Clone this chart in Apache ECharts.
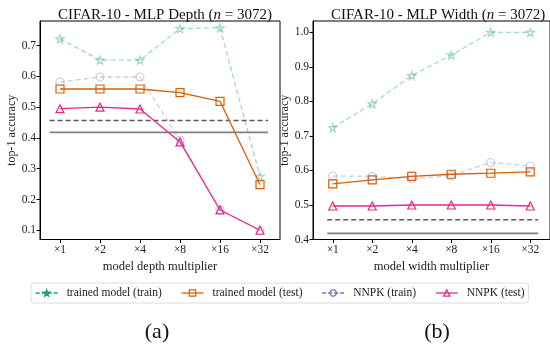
<!DOCTYPE html>
<html>
<head>
<meta charset="utf-8">
<style>html,body{margin:0;padding:0;background:#fff;}#c{width:550px;height:344px;}</style>
<script src="https://cdn.jsdelivr.net/npm/echarts@6/dist/echarts.min.js"></script>
</head>
<body>
<div id="c"></div>
<script>
// ---- data ----
const categories = ['×1', '×2', '×4', '×8', '×16', '×32'];
const seriesNames = ['trained model (train)', 'trained model (test)', 'NNPK (train)', 'NNPK (test)'];

const depthTrainedTrain = [0.722, 0.653, 0.653, 0.755, 0.758, 0.275];
const depthTrainedTest  = [0.559, 0.559, 0.559, 0.547, 0.519, 0.248];
const depthNNPKTrain    = [0.582, 0.598, 0.598, 0.393, 0.167, 0.100];
const depthNNPKTest     = [0.495, 0.500, 0.494, 0.387, 0.166, 0.100];

const widthTrainedTrain = [0.724, 0.793, 0.875, 0.934, 1.000, 1.000];
const widthTrainedTest  = [0.561, 0.573, 0.583, 0.589, 0.592, 0.596];
const widthNNPKTrain    = [0.584, 0.583, 0.576, 0.585, 0.623, 0.613];
const widthNNPKTest     = [0.497, 0.497, 0.500, 0.500, 0.500, 0.497];

// reference horizontal lines (accuracy levels) and their x extent (fraction of axes)
const refDashed = 0.457;
const refSolid  = 0.418;
const refExtentDepth = [0.04, 0.95];
const refExtentWidth = [0.06, 0.95];

const depthTicks = [0.1, 0.2, 0.3, 0.4, 0.5, 0.6, 0.7];
const widthTicks = [0.4, 0.5, 0.6, 0.7, 0.8, 0.9, 1.0];
const depthRange = [0.07, 0.78];
const widthRange = [0.4, 1.033];

// ---- styles ----
const FONT = 'Liberation Serif';
const colors = ['#1b9e77', '#d95f02', '#7570b3', '#e7298a'];
const STAR = 'path://M50,2 L61,36 L97,36 L68,57 L79,92 L50,71 L21,92 L32,57 L3,36 L39,36 Z';
const symbols = [STAR, 'rect', 'circle', 'triangle'];
const symSizes = [8, 8, 8, 8];
const dashed = [true, false, true, false];
const alphas = [0.4, 1, 0.35, 1];

function rgba(hex, a) {
  const n = parseInt(hex.slice(1), 16);
  return `rgba(${(n >> 16) & 255},${(n >> 8) & 255},${n & 255},${a})`;
}

function mkSeries(i, data, gi) {
  const c = rgba(colors[i], alphas[i]);
  return {
    name: seriesNames[i], type: 'line', xAxisIndex: gi * 2, yAxisIndex: gi,
    data: data, symbol: symbols[i], symbolSize: symSizes[i], showSymbol: true,
    lineStyle: { color: c, width: 1.3, type: dashed[i] ? [5, 3] : 'solid' },
    itemStyle: { color: 'rgba(255,255,255,0)', borderColor: c, borderWidth: 1.2 },
    emphasis: { disabled: true }, z: 3 + i, animation: false
  };
}
function refSeries(gi, y, ext, isDash) {
  return {
    type: 'line', xAxisIndex: gi * 2 + 1, yAxisIndex: gi, symbol: 'none',
    data: [[ext[0], y], [ext[1], y]],
    lineStyle: { color: isDash ? '#5a5a5a' : '#808080', width: isDash ? 1.5 : 1.8, type: isDash ? [5, 3] : 'solid' },
    silent: true, animation: false, z: 2
  };
}

const axisTxt = { fontFamily: FONT, fontSize: 11.5, color: '#222' };

function mkX(gi, name) {
  return [{
    type: 'category', gridIndex: gi, data: categories, boundaryGap: true,
    axisLine: { show: true, lineStyle: { color: '#000', width: 1 } },
    axisTick: { show: true, alignWithLabel: true, length: 3.5, lineStyle: { color: '#000' } },
    axisLabel: Object.assign({ margin: 4 }, axisTxt),
    splitLine: { show: false },
    name: name, nameLocation: 'middle', nameGap: 17,
    nameTextStyle: { fontFamily: FONT, fontSize: 12.5, color: '#222' }
  }, {
    type: 'value', gridIndex: gi, min: 0, max: 1, show: false
  }];
}
function mkY(gi, range, ticks, gap) {
  return {
    type: 'value', gridIndex: gi, min: range[0], max: range[1],
    axisLine: { show: true, lineStyle: { color: '#000', width: 1 } },
    axisTick: { show: true, length: 3.5, customValues: ticks, lineStyle: { color: '#000' } },
    axisLabel: Object.assign({ margin: 4, customValues: ticks, formatter: v => v.toFixed(1) }, axisTxt),
    splitLine: { show: false },
    name: 'top-1 accuracy', nameLocation: 'middle', nameGap: gap, nameRotate: 90,
    nameTextStyle: { fontFamily: FONT, fontSize: 12, color: '#222' }
  };
}

const titleRich = {
  n: { fontFamily: FONT, fontSize: 15, fontStyle: 'italic', color: '#111' }
};

const chart = echarts.init(document.getElementById('c'), null, { renderer: 'canvas' });
chart.setOption({
  backgroundColor: '#fff',
  animation: false,
  title: [
    { text: 'CIFAR-10 - MLP Depth ({n|n} = 3072)', left: 160, top: 3, textAlign: 'center',
      textStyle: { fontFamily: FONT, fontSize: 15, fontWeight: 'normal', color: '#111', rich: titleRich } },
    { text: 'CIFAR-10 - MLP Width ({n|n} = 3072)', left: 433, top: 3, textAlign: 'center',
      textStyle: { fontFamily: FONT, fontSize: 15, fontWeight: 'normal', color: '#111', rich: titleRich } },
    { text: '(a)', left: 152, top: 316, textAlign: 'center',
      textStyle: { fontFamily: FONT, fontSize: 22, fontWeight: 'normal', color: '#111' } },
    { text: '(b)', left: 432, top: 316, textAlign: 'center',
      textStyle: { fontFamily: FONT, fontSize: 22, fontWeight: 'normal', color: '#111' } }
  ],
  legend: {
    left: 31, top: 283,
    data: seriesNames.map((n, i) => ({
      name: n,
      itemStyle: { color: i === 0 ? colors[i] : 'rgba(255,255,255,0)', borderColor: colors[i], borderWidth: 1.2 },
      lineStyle: { color: colors[i], width: 1.3, type: dashed[i] ? [4, 2] : 'solid' }
    })),
    itemWidth: 22, itemHeight: 8, itemGap: 19,
    padding: [4, 4, 4, 4],
    borderColor: '#ddd', borderWidth: 1, borderRadius: 3,
    textStyle: { fontFamily: FONT, fontSize: 11.5, color: '#222', padding: [0, 0, 0, 4] },
    selectedMode: false
  },
  grid: [
    { left: 40, top: 21, width: 240, height: 218.5, show: true, borderColor: '#000', borderWidth: 1, backgroundColor: 'transparent' },
    { left: 313, top: 21, width: 240, height: 218.5, show: true, borderColor: '#000', borderWidth: 1, backgroundColor: 'transparent' }
  ],
  xAxis: [].concat(mkX(0, 'model depth multiplier'), mkX(1, 'model width multiplier')),
  yAxis: [mkY(0, depthRange, depthTicks, 20), mkY(1, widthRange, widthTicks, 18)],
  series: [
    refSeries(0, refDashed, refExtentDepth, true),
    refSeries(0, refSolid, refExtentDepth, false),
    refSeries(1, refDashed, refExtentWidth, true),
    refSeries(1, refSolid, refExtentWidth, false),
    mkSeries(0, depthTrainedTrain, 0),
    mkSeries(1, depthTrainedTest, 0),
    mkSeries(2, depthNNPKTrain, 0),
    mkSeries(3, depthNNPKTest, 0),
    mkSeries(0, widthTrainedTrain, 1),
    mkSeries(1, widthTrainedTest, 1),
    mkSeries(2, widthNNPKTrain, 1),
    mkSeries(3, widthNNPKTest, 1)
  ]
});
</script>
</body>
</html>
